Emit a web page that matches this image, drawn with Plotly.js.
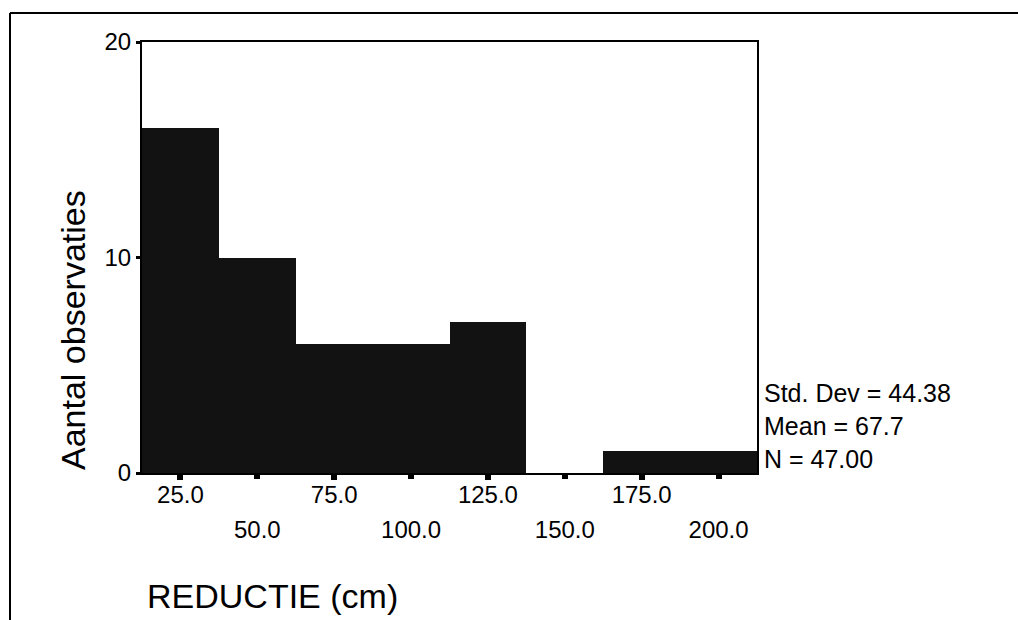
<!DOCTYPE html>
<html>
<head>
<meta charset="utf-8">
<script src="https://cdn.plot.ly/plotly-3.0.1.min.js"></script>
<style>
  html, body { margin: 0; padding: 0; background: #fff; }
  #chart { width: 1018px; height: 620px; }
</style>
</head>
<body>
<div id="chart"></div>
<script>
// Data
const binCenters = [25, 50, 75, 100, 125, 150, 175, 200];
const counts = [16, 10, 6, 6, 7, 0, 1, 1];
const oddTickVals = [25, 75, 125, 175];
const oddTickText = ['25.0', '75.0', '125.0', '175.0'];
const evenTickVals = [50, 100, 150, 200];
const evenTickText = ['50.0', '100.0', '150.0', '200.0'];
const yTickVals = [0, 10, 20];
const yTickText = ['0', '10', '20'];
const statLines = ['Std. Dev = 44.38', 'Mean = 67.7', 'N = 47.00'];
const xTitle = 'REDUCTIE (cm)';
const yTitle = 'Aantal observaties';

const FONT = 'Liberation Sans, Arial, sans-serif';

const traces = [
  {
    type: 'bar',
    x: binCenters,
    y: counts,
    xaxis: 'x',
    yaxis: 'y',
    marker: { color: '#121212', line: { width: 0 } },
    hoverinfo: 'x+y'
  },
  {
    type: 'scatter',
    mode: 'markers',
    x: binCenters,
    y: counts,
    xaxis: 'x2',
    yaxis: 'y',
    marker: { opacity: 0 },
    hoverinfo: 'skip',
    showlegend: false
  }
];

// layout geometry
const L = 142, R = 261, T = 42, B = 147;
const W = 1018, H = 620;
const pw = W - L - R, ph = H - T - B;
const px = v => (v - L) / pw;          // pixel x -> paper x
const py = v => (H - B - v) / ph;      // pixel y -> paper y

const annotations = [];
const statY = [393, 426, 459];
statLines.forEach((t, i) => {
  annotations.push({
    xref: 'paper', yref: 'paper', x: px(762), y: py(statY[i]),
    xanchor: 'left', yanchor: 'middle', showarrow: false,
    text: t, font: { family: FONT, size: 25, color: '#000' }
  });
});
annotations.push({
  xref: 'paper', yref: 'paper', x: px(145), y: py(596),
  xanchor: 'left', yanchor: 'middle', showarrow: false,
  text: xTitle, font: { family: FONT, size: 34, color: '#000' }
});
annotations.push({
  xref: 'paper', yref: 'paper', x: px(73), y: py(330),
  xanchor: 'center', yanchor: 'middle', showarrow: false, textangle: -90,
  text: yTitle, font: { family: FONT, size: 34, color: '#000' }
});

const layout = {
  width: W, height: H,
  margin: { l: L, r: R, t: T, b: B, pad: 0 },
  paper_bgcolor: '#fff',
  plot_bgcolor: '#fff',
  showlegend: false,
  bargap: 0,
  font: { family: FONT, size: 24, color: '#000' },
  xaxis: {
    range: [12.5, 212.5],
    tickmode: 'array', tickvals: oddTickVals, ticktext: oddTickText,
    ticks: 'outside', ticklen: 5, tickwidth: 6, tickcolor: '#000',
    ticklabelstandoff: -6,
    showline: true, linecolor: '#000', linewidth: 2, mirror: true,
    showgrid: false, zeroline: false,
    tickfont: { family: FONT, size: 24, color: '#000' },
    fixedrange: true
  },
  xaxis2: {
    overlaying: 'x', matches: 'x', anchor: 'y', side: 'bottom',
    range: [12.5, 212.5],
    tickmode: 'array', tickvals: evenTickVals, ticktext: evenTickText,
    ticks: 'outside', ticklen: 5, tickwidth: 6, tickcolor: '#000',
    ticklabelstandoff: 30,
    showline: false, showgrid: false, zeroline: false,
    tickfont: { family: FONT, size: 24, color: '#000' },
    fixedrange: true
  },
  yaxis: {
    range: [0, 20],
    tickmode: 'array', tickvals: yTickVals, ticktext: yTickText,
    ticks: 'outside', ticklen: 4, tickwidth: 3, tickcolor: '#000',
    ticklabelstandoff: 0,
    showline: true, linecolor: '#000', linewidth: 2, mirror: true,
    showgrid: false, zeroline: false,
    tickfont: { family: FONT, size: 24, color: '#000' },
    fixedrange: true
  },
  annotations: annotations,
  shapes: [
    { type: 'line', xref: 'paper', yref: 'paper',
      x0: px(10), x1: px(1018), y0: py(13), y1: py(13),
      line: { color: '#000', width: 2 } },
    { type: 'line', xref: 'paper', yref: 'paper',
      x0: px(10), x1: px(10), y0: py(13), y1: py(620),
      line: { color: '#000', width: 2 } }
  ]
};

Plotly.newPlot('chart', traces, layout, { displayModeBar: false, staticPlot: true });
</script>
</body>
</html>
